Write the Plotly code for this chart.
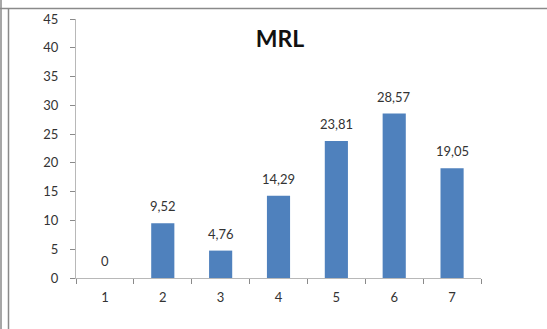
import plotly.graph_objects as go

categories = ["1", "2", "3", "4", "5", "6", "7"]
values = [0, 9.52, 4.76, 14.29, 23.81, 28.57, 19.05]
y_ticks = [0, 5, 10, 15, 20, 25, 30, 35, 40, 45]


def fmt(v):
    return "0" if v == 0 else f"{v:.2f}".replace(".", ",")


labels = [fmt(v) for v in values]

W, H = 547, 329
ML, MR, MT, MB = 76, 66, 19, 51
pw, ph = W - ML - MR, H - MT - MB

fig = go.Figure(
    go.Bar(
        x=categories,
        y=values,
        marker=dict(color="#4F81BD", line=dict(width=0)),
        width=0.4,
        hoverinfo="x+y",
    )
)

# value labels sitting above each bar (category axis positions are indices)
for i, (v, t) in enumerate(zip(values, labels)):
    fig.add_annotation(
        x=i, y=v, text=t, showarrow=False,
        xref="x", yref="y", yanchor="middle", yshift=17,
        font=dict(family="Lato", size=13, color="#333333"),
    )


def px_x(x):
    return (x - ML) / pw


def px_y(y):
    return 1 - (y - MT) / ph


frame = dict(type="line", xref="paper", yref="paper", line=dict(color="#8a8a8a", width=1.5))
fig.add_shape(**frame, x0=px_x(0), x1=px_x(W), y0=px_y(8.5), y1=px_y(8.5))
fig.add_shape(**frame, x0=px_x(1), x1=px_x(1), y0=px_y(0), y1=px_y(H))
fig.add_shape(**frame, x0=px_x(8.5), x1=px_x(8.5), y0=px_y(8.5), y1=px_y(H))

fig.update_layout(
    width=W,
    height=H,
    margin=dict(l=ML, r=MR, t=MT, b=MB),
    paper_bgcolor="white",
    plot_bgcolor="white",
    showlegend=False,
    font=dict(family="Lato", size=13, color="#333333"),
    title=dict(
        text="<b>MRL</b>",
        x=px_x(280),
        xref="paper",
        xanchor="center",
        y=1 - 39 / H,
        yanchor="middle",
        font=dict(family="Lato", size=23, color="#111111"),
    ),
    xaxis=dict(
        type="category",
        range=[-0.5, 6.5],
        showgrid=False,
        showline=True,
        linecolor="#b8b8b8",
        linewidth=1,
        ticks="outside",
        tickson="boundaries",
        ticklen=5,
        tickcolor="#8a8a8a",
        tickfont=dict(family="Lato", size=13, color="#333333"),
        ticklabelstandoff=7,
        zeroline=False,
    ),
    yaxis=dict(
        range=[0, 45],
        tickvals=y_ticks,
        showgrid=False,
        showline=True,
        linecolor="#b8b8b8",
        linewidth=1,
        ticks="outside",
        ticklen=5,
        tickcolor="#8a8a8a",
        tickfont=dict(family="Lato", size=13, color="#333333"),
        ticklabelstandoff=9,
        zeroline=False,
    ),
)

fig.write_html("out.html")
